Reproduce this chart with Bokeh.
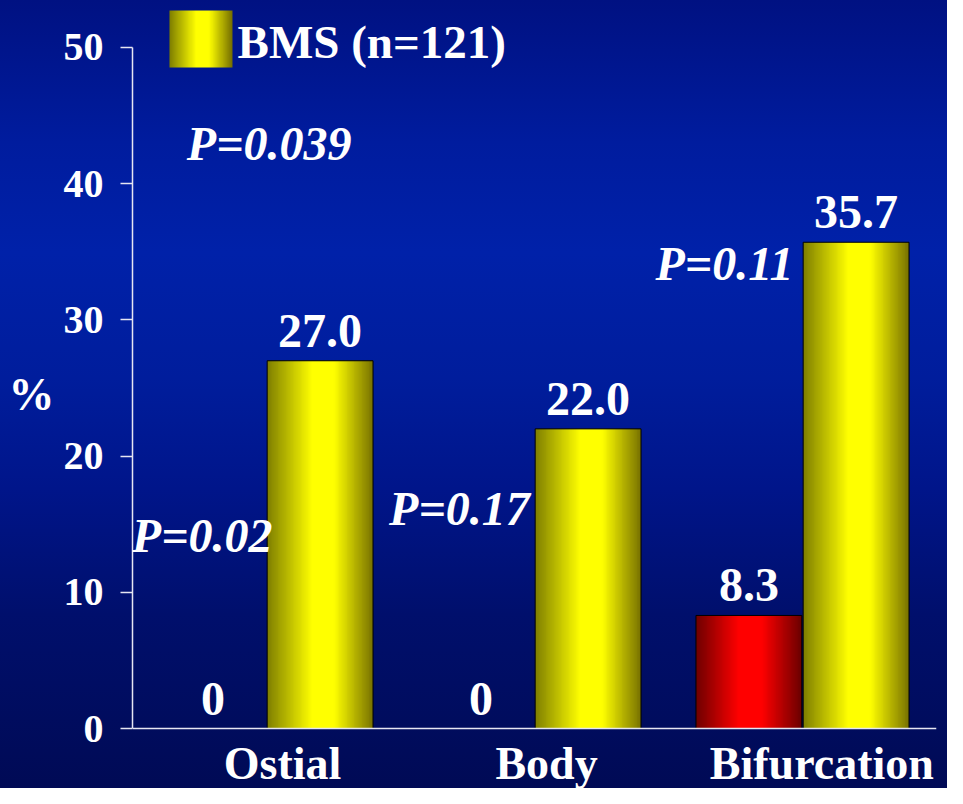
import numpy as np
from bokeh.plotting import figure
from bokeh.models import (FixedTicker, Label, InlineStyleSheet, ColumnDataSource,
                          Range1d, Span)
from bokeh.embed import file_html
from bokeh.resources import INLINE

# ---------------- data ----------------
categories = ["Ostial", "Body", "Bifurcation"]
des_values = [0.0, 0.0, 8.3]      # red series
bms_values = [27.0, 22.0, 35.7]   # yellow series
y_ticks = [0, 10, 20, 30, 40, 50]
p_texts = ["P=0.039", "P=0.02", "P=0.17", "P=0.11"]
legend_text = "BMS (n=121)"
y_title = "%"

# ---------------- layout / style ----------------
FONT = "Liberation Serif"
W, H = 947, 788
bar_w = 0.395
offs = {"des": -0.2, "bms": 0.2}
cat_label_x = [0.06, 1.045, 2.072]
cat_label_y = -2.55
p_x = [0.01, -0.24, 0.72, 1.709]
p_y = [42.95, 14.17, 16.15, 34.14]

css = InlineStyleSheet(css=""":host { background: linear-gradient(to bottom,
  #001182 0%, #001c9e 18%, #0021a9 32%, #001d9c 48%, #00158a 62%,
  #000f6c 78%, #000a55 100%); }""")

p = figure(width=W, height=H, output_backend="svg", toolbar_location=None,
           x_range=Range1d(-0.5, 2.5), y_range=Range1d(-4.405, 53.45),
           x_axis_location=None,
           min_border_left=132, min_border_right=11, min_border_top=0,
           min_border_bottom=0, stylesheets=[css])
p.background_fill_alpha = 0
p.border_fill_alpha = 0
p.outline_line_color = None
p.grid.visible = False


def hgrad(dark_l, bright, dark_r, a, b, n=120):
    img = np.zeros((1, n), dtype=np.uint32)
    view = img.view(dtype=np.uint8).reshape((1, n, 4))
    dl, br, dr = (np.array(c, dtype=float) for c in (dark_l, bright, dark_r))
    for i, t in enumerate(np.linspace(0, 1, n)):
        if t < a:
            c = dl + (br - dl) * (t / a)
        elif t <= b:
            c = br
        else:
            c = br + (dr - br) * ((t - b) / (1 - b))
        view[0, i, :3] = np.clip(c, 0, 255).astype(np.uint8)
        view[0, i, 3] = 255
    return img


yellow_img = hgrad((128, 128, 0), (255, 255, 0), (118, 112, 0), 0.42, 0.63)
red_img = hgrad((112, 0, 0), (255, 0, 0), (104, 0, 0), 0.40, 0.62)

idx = np.arange(len(categories))
for vals, key, img in ((des_values, "des", red_img), (bms_values, "bms", yellow_img)):
    centers = idx + offs[key]
    src = ColumnDataSource(dict(
        image=[img] * len(vals), x=list(centers - bar_w / 2), y=[0] * len(vals),
        dw=[bar_w] * len(vals), dh=vals, xc=list(centers), top=vals,
        la=[1.0 if v > 0 else 0.0 for v in vals],
        lab=["0" if v == 0 else f"{v:.1f}" for v in vals]))
    p.image_rgba(image="image", x="x", y="y", dw="dw", dh="dh", source=src)
    p.vbar(x="xc", top="top", width=bar_w, source=src, fill_alpha=0,
           line_color="black", line_width=1, line_alpha="la")
    p.text(x="xc", y="top", text="lab", source=src, text_align="center",
           text_baseline="alphabetic", y_offset=-30, text_color="white",
           text_font={"value": FONT}, text_font_style="bold",
           text_font_size="48px")

# baseline (category axis line at 0)
p.add_layout(Span(location=0, dimension="width", line_color="#e6e6f2",
                  line_width=1.5))

# legend (manual, gradient swatch)
p.image_rgba(image=[yellow_img], x=[-0.362], y=[48.53], dw=[63], dh=[57],
             dw_units="screen", dh_units="screen")
p.add_layout(Label(x=-0.108, y=50.4, text=legend_text, text_color="white",
                   text_font=FONT, text_font_style="bold", text_font_size="47px",
                   text_baseline="alphabetic", text_align="left"))

# p-values
for t, x, y in zip(p_texts, p_x, p_y):
    p.add_layout(Label(x=x, y=y, text=t, text_color="white", text_font=FONT,
                       text_font_style="bold italic", text_font_size="48px",
                       text_align="center", text_baseline="alphabetic"))

# category labels
for t, x in zip(categories, cat_label_x):
    p.add_layout(Label(x=x, y=cat_label_y, text=t, text_color="white",
                       text_font=FONT, text_font_style="bold",
                       text_font_size="46px", text_align="center",
                       text_baseline="alphabetic"))

# y axis
ya = p.yaxis[0]
ya.ticker = FixedTicker(ticks=y_ticks)
ya.bounds = (0, 50)
ya.axis_line_color = "#e6e6f2"
ya.axis_line_width = 1.5
ya.major_tick_line_color = "#e6e6f2"
ya.major_tick_line_width = 1.5
ya.major_tick_out = 12
ya.major_tick_in = 0
ya.minor_tick_line_color = None
ya.major_label_text_color = "white"
ya.major_label_text_font = FONT
ya.major_label_text_font_style = "bold"
ya.major_label_text_font_size = "40px"
ya.major_label_standoff = 17
ya.axis_label = y_title
ya.axis_label_text_color = "white"
ya.axis_label_text_font = FONT
ya.axis_label_text_font_style = "bold"
ya.axis_label_text_font_size = "46px"
ya.axis_label_standoff = 6
if "axis_label_orientation" in ya.properties():
    ya.axis_label_orientation = "horizontal"

open("out.html", "w").write(file_html(p, INLINE))
